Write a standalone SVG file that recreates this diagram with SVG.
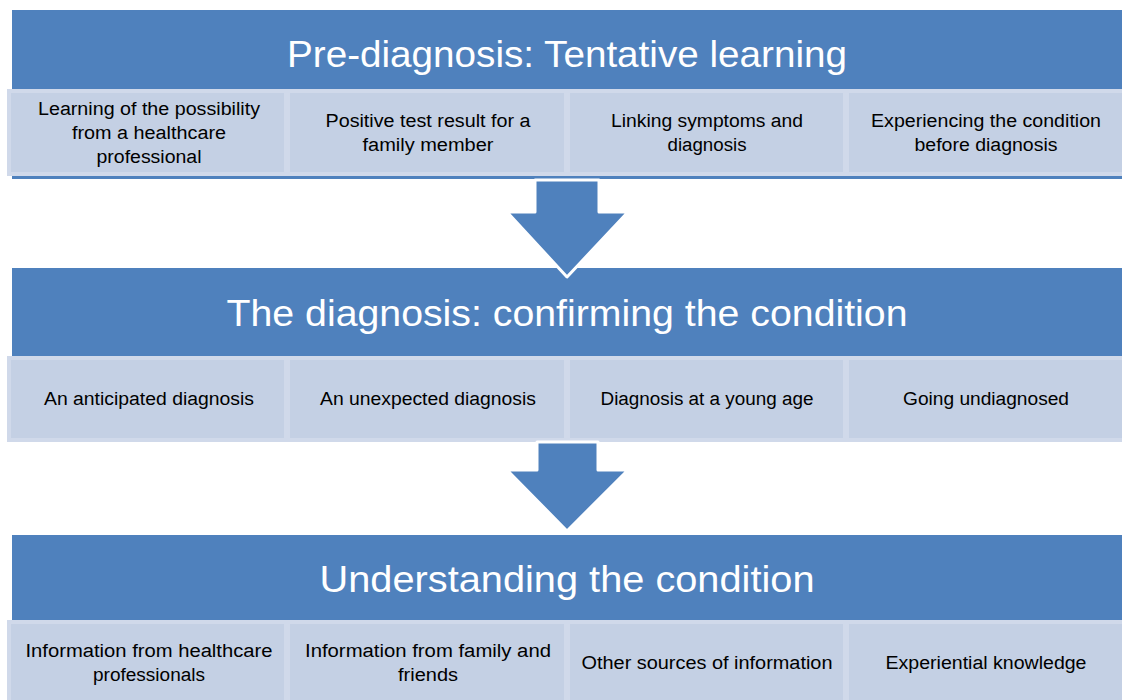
<svg xmlns="http://www.w3.org/2000/svg" width="1122" height="700" viewBox="0 0 1122 700">
<style>
.band{fill:#4F81BD}
.sub{fill:#C4D0E4;stroke:#D0D9EA;stroke-width:4}
.arrow{fill:#4F81BD;stroke:#FFFFFF;stroke-width:3;stroke-linejoin:round}
.title{font-family:"Liberation Sans",Arial,sans-serif;font-size:37px;fill:#FFFFFF;text-anchor:middle}
.lbl{font-family:"Liberation Sans",Arial,sans-serif;font-size:18px;fill:#000000;text-anchor:middle}
</style>
<rect width="1122" height="700" fill="#FFFFFF"/>

<g id="stage1">
<rect class="band" x="12" y="10" width="1115" height="169"/>
<text class="title" x="567" y="67" textLength="560" lengthAdjust="spacingAndGlyphs">Pre-diagnosis: Tentative learning</text>
</g>
<g id="s1a"><rect class="sub" x="9" y="91" width="277" height="83"/>
<text class="lbl" x="149" y="115" textLength="222" lengthAdjust="spacingAndGlyphs">Learning of the possibility</text>
<text class="lbl" x="149" y="139" textLength="154" lengthAdjust="spacingAndGlyphs">from a healthcare</text>
<text class="lbl" x="149" y="163" textLength="105" lengthAdjust="spacingAndGlyphs">professional</text></g>
<g id="s1b"><rect class="sub" x="288" y="91" width="278" height="83"/>
<text class="lbl" x="428" y="127" textLength="205" lengthAdjust="spacingAndGlyphs">Positive test result for a</text>
<text class="lbl" x="428" y="151" textLength="131" lengthAdjust="spacingAndGlyphs">family member</text></g>
<g id="s1c"><rect class="sub" x="568" y="91" width="277" height="83"/>
<text class="lbl" x="707" y="127" textLength="192" lengthAdjust="spacingAndGlyphs">Linking symptoms and</text>
<text class="lbl" x="707" y="151" textLength="79" lengthAdjust="spacingAndGlyphs">diagnosis</text></g>
<g id="s1d"><rect class="sub" x="847" y="91" width="280" height="83"/>
<text class="lbl" x="986" y="127" textLength="230" lengthAdjust="spacingAndGlyphs">Experiencing the condition</text>
<text class="lbl" x="986" y="151" textLength="143" lengthAdjust="spacingAndGlyphs">before diagnosis</text></g>

<g id="stage2">
<rect class="band" x="12" y="268" width="1115" height="172"/>
<text class="title" x="567" y="326" textLength="681" lengthAdjust="spacingAndGlyphs">The diagnosis: confirming the condition</text>
</g>
<g id="s2a"><rect class="sub" x="9" y="358" width="277" height="82"/>
<text class="lbl" x="149" y="405" textLength="210" lengthAdjust="spacingAndGlyphs">An anticipated diagnosis</text></g>
<g id="s2b"><rect class="sub" x="288" y="358" width="278" height="82"/>
<text class="lbl" x="428" y="405" textLength="216" lengthAdjust="spacingAndGlyphs">An unexpected diagnosis</text></g>
<g id="s2c"><rect class="sub" x="568" y="358" width="277" height="82"/>
<text class="lbl" x="707" y="405" textLength="213" lengthAdjust="spacingAndGlyphs">Diagnosis at a young age</text></g>
<g id="s2d"><rect class="sub" x="847" y="358" width="280" height="82"/>
<text class="lbl" x="986" y="405" textLength="166" lengthAdjust="spacingAndGlyphs">Going undiagnosed</text></g>

<g id="stage3">
<rect class="band" x="12" y="535" width="1115" height="170"/>
<text class="title" x="567" y="592" textLength="495" lengthAdjust="spacingAndGlyphs">Understanding the condition</text>
</g>
<g id="s3a"><rect class="sub" x="9" y="622" width="277" height="85"/>
<text class="lbl" x="149" y="657" textLength="247" lengthAdjust="spacingAndGlyphs">Information from healthcare</text>
<text class="lbl" x="149" y="681" textLength="112" lengthAdjust="spacingAndGlyphs">professionals</text></g>
<g id="s3b"><rect class="sub" x="288" y="622" width="278" height="85"/>
<text class="lbl" x="428" y="657" textLength="246" lengthAdjust="spacingAndGlyphs">Information from family and</text>
<text class="lbl" x="428" y="681" textLength="60" lengthAdjust="spacingAndGlyphs">friends</text></g>
<g id="s3c"><rect class="sub" x="568" y="622" width="277" height="85"/>
<text class="lbl" x="707" y="669" textLength="251" lengthAdjust="spacingAndGlyphs">Other sources of information</text></g>
<g id="s3d"><rect class="sub" x="847" y="622" width="280" height="85"/>
<text class="lbl" x="986" y="669" textLength="201" lengthAdjust="spacingAndGlyphs">Experiential knowledge</text></g>

<g id="connectors">
<polygon class="arrow" points="535,180 599,180 599,212 628,212 567,277 507,212 535,212"/>
<polygon class="arrow" points="537,442 598,442 598,470 628,470 567,531 507,470 537,470"/>
</g>
</svg>
